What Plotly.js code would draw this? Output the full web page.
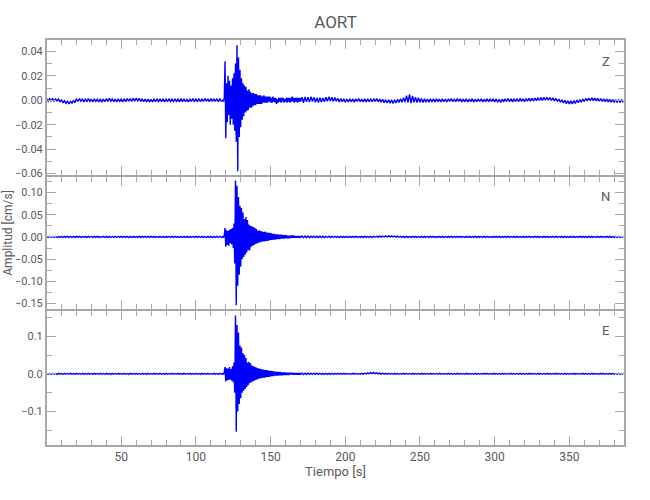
<!DOCTYPE html>
<html>
<head>
<meta charset="utf-8">
<script src="https://cdn.plot.ly/plotly-3.0.1.min.js"></script>
<style>html,body{margin:0;padding:0;background:#fff}#chart{width:650px;height:500px}</style>
</head>
<body>
<div id="chart"></div>
<script>
// ---- Sampling grid (seconds) ----
const preStart = 0, preStep = 1;      // pre-event samples  (0 .. 117 s)
const evtStart = 118, evtStep = 0.5;  // event samples      (118 .. 170 s)
const postStart = 171, postStep = 1;  // coda / post-event  (171 .. 386 s)
// values below are in units of 1e-3 cm/s
const unit = 0.001;

// ---- Channel names ----
const channels = ["Z", "N", "E"];

// ---- Z component ----
const zPre = [1.4,-0.8,1.2,-0.6,1.5,-0.9,1.1,-0.5,1.0,-1.2,
  0.2,-1.8,-0.4,-2.4,-0.8,-3.0,-0.6,-2.6,0.0,-2.0,
  1.2,-1.0,1.4,-0.8,1.1,-1.3,0.9,-1.1,1.3,-0.9,
  1.0,-1.4,1.2,-1.0,0.8,-1.3,1.1,-1.5,0.9,-1.2,
  1.3,-0.9,1.5,-0.7,1.2,-1.1,1.0,-1.4,1.1,-1.0,
  0.9,-1.3,1.2,-1.1,1.4,-0.8,1.3,-1.0,1.6,-0.7,
  1.7,-0.5,1.5,-0.9,1.2,-1.2,1.0,-1.4,0.9,-1.5,
  0.8,-1.3,1.1,-1.2,1.0,-1.0,1.2,-1.1,0.9,-1.3,
  1.1,-1.2,1.3,-1.0,0.9,-1.4,1.2,-0.9,1.0,-1.3,
  1.4,-1.1,1.2,-1.2,0.8,-1.4,1.1,-1.0,1.3,-1.1,
  1.0,-0.9,1.3,-1.2,1.1,-1.0,1.5,-0.8,1.2,-1.1,
  1.4,-0.9,1.2,-1.0,1.3,-1.2,1.1,-0.8];
const zEvt = [0,-1,2,32,-31,14,-18,20,-12,16,
  -20,12,-15,18,-20,22,-25,30,-34,45,
  -58,35,-30,25,-22,18,-16,14,-13,12,
  -10,11,-9,8,-8,9,-6,7,-6,6,
  -5,6,-4,5,-4,5,-3,4,-3,4,
  -3,4,-3,3,-2,4,-2,3,-2,3,
  -2,3,-1,3,-2,2,-2,3,-1,2,
  -2,2,-3,1,-2,2,-1,2,-2,2,
  -1,2,-2,1,-1,2,-2,2,-1,2,
  -2,2,-1,3,-1,2,-2,2,-1,2,
  -2,2,-1,2,-1];
const zPost = [2.5,-2.0,2.8,-1.2,2.6,-1.5,3.0,-1.0,2.4,-1.6,
  2.2,-1.8,2.0,-1.4,1.8,-1.2,2.5,-0.8,2.8,-0.6,
  2.4,-1.0,2.2,-0.8,1.6,-1.4,1.5,-1.2,1.2,-1.6,
  1.0,-1.4,1.3,-1.2,1.1,-1.5,1.2,-1.0,1.4,-1.2,
  1.0,-1.3,1.1,-1.4,1.2,-1.1,0.9,-1.2,1.3,-1.0,
  1.4,-1.2,1.0,-1.6,0.7,-1.9,0.5,-2.2,0.4,-2.4,
  0.3,-2.6,0.5,-2.2,0.8,-1.8,1.2,-1.6,2.0,-1.4,
  3.8,-1.8,4.8,-2.4,3.6,-1.6,2.6,-1.8,2.0,-1.6,
  1.5,-1.9,1.2,-1.6,1.0,-1.5,1.2,-1.3,1.1,-1.4,
  1.2,-1.1,1.0,-1.3,1.1,-1.2,0.9,-1.4,1.2,-1.0,
  1.3,-1.1,1.0,-1.2,1.4,-1.0,1.1,-1.3,0.9,-1.2,
  1.2,-1.4,1.0,-1.1,1.3,-1.5,0.8,-1.2,1.1,-1.0,
  1.2,-1.3,1.0,-1.1,1.3,-1.2,1.1,-1.0,1.2,-1.4,
  1.0,-1.6,0.8,-1.8,0.9,-1.3,1.2,-1.0,1.4,-1.1,
  1.1,-1.3,1.2,-1.0,1.3,-1.2,1.5,-0.9,1.2,-1.1,
  1.3,-0.8,1.5,-0.7,1.6,-0.5,1.8,-0.4,2.0,-0.2,
  2.2,-0.1,2.4,0.0,2.5,0.1,2.3,-0.2,2.0,-0.6,
  1.6,-1.0,1.0,-1.6,0.4,-2.2,0.0,-2.8,-0.4,-3.0,
  -0.5,-3.1,-0.3,-2.6,0.2,-2.0,0.6,-1.5,1.0,-1.0,
  1.5,-0.6,1.8,-0.4,2.0,-0.3,1.8,-0.5,1.6,-0.8,
  1.3,-1.0,1.2,-1.1,1.0,-1.3,0.8,-1.5,0.6,-1.7,
  0.5,-1.8,0.6,-1.6,0.4,-1.8];

// ---- N component ----
const nPre = [1.1,-1.0,1.3,-0.8,1.0,-1.2,0.9,-1.4,0.8,-1.1,
  1.0,-1.1,1.2,-0.9,1.1,-1.2,1.0,-1.3,1.1,-1.0,
  1.2,-0.9,1.1,-1.1,1.0,-1.2,1.1,-1.0,1.3,-0.9,
  1.0,-1.2,1.2,-1.0,1.1,-1.1,1.0,-1.3,1.1,-1.2,
  1.2,-1.0,1.1,-1.3,1.0,-1.0,1.2,-1.2,1.4,-1.1,
  1.1,-1.2,1.3,-1.1,1.2,-1.4,1.1,-1.2,1.3,-1.0,
  1.0,-1.1,1.2,-0.9,1.1,-1.2,1.0,-1.3,1.2,-1.1,
  1.3,-1.0,1.1,-1.2,1.0,-1.1,1.2,-1.3,1.1,-1.0,
  1.2,-1.1,1.0,-1.2,1.3,-1.0,1.1,-1.1,1.2,-1.2,
  1.0,-1.3,1.1,-1.0,1.2,-1.1,1.3,-1.2,1.0,-1.1,
  1.2,-1.0,1.1,-1.3,1.2,-1.1,1.0,-1.2,1.3,-1.1,
  1.2,-1.4,1.3,-1.2,1.1,-1.3,1.4,-1.2];
const nEvt = [1,-2,4,20,-22,15,-18,13,-20,16,
  -14,18,-17,20,-25,30,-60,127,-154,115,
  -110,90,-85,70,-67,65,-50,55,-45,40,
  -40,45,-35,38,-30,28,-30,25,-22,24,
  -20,22,-18,20,-16,18,-15,14,-13,15,
  -12,13,-11,12,-10,11,-10,12,-9,10,
  -9,9,-8,9,-7,8,-7,7,-6,7,
  -6,6,-5,6,-5,5,-5,5,-4,5,
  -4,4,-4,4,-3,4,-3,3,-3,3,
  -3,3,-2,3,-2,3,-2,2,-2,2,
  -2,2,-2,2,-1];
const nPost = [1.9,-1.7,2.0,-1.6,1.8,-1.7,1.7,-1.5,1.8,-1.4,
  1.6,-1.5,1.5,-1.3,1.6,-1.4,1.4,-1.2,1.5,-1.3,
  1.3,-1.2,1.4,-1.1,1.2,-1.3,1.3,-1.1,1.2,-1.2,
  1.1,-1.2,1.2,-1.0,1.1,-1.1,1.2,-1.0,1.0,-1.1,
  1.2,-1.0,1.1,-1.2,1.0,-1.1,1.2,-0.9,1.3,-0.8,
  1.5,-0.6,1.8,-0.4,2.0,-0.2,2.2,-0.1,2.4,0.0,
  2.3,-0.2,2.0,-0.5,1.7,-0.8,1.4,-1.0,1.2,-1.1,
  1.1,-1.2,1.0,-1.1,1.2,-1.0,1.1,-1.2,1.0,-1.1,
  1.2,-1.0,1.1,-1.1,1.0,-1.2,1.1,-1.0,1.2,-1.1,
  1.0,-1.2,1.1,-1.0,1.2,-1.1,1.0,-1.1,1.1,-1.2,
  1.2,-1.0,1.0,-1.1,1.1,-1.2,1.2,-1.0,1.0,-1.1,
  1.1,-1.2,1.2,-1.0,1.0,-1.1,1.1,-1.2,1.2,-1.0,
  1.0,-1.1,1.2,-1.2,1.1,-1.0,1.0,-1.1,1.2,-1.2,
  1.1,-1.0,1.2,-1.1,1.0,-1.2,1.1,-1.0,1.2,-1.1,
  1.0,-1.2,1.1,-1.1,1.2,-1.0,1.0,-1.2,1.1,-1.1,
  1.2,-1.0,1.1,-1.2,1.0,-1.1,1.2,-1.0,1.1,-1.2,
  1.0,-1.1,1.2,-1.0,1.1,-1.2,1.0,-1.1,1.2,-1.0,
  1.1,-1.2,1.0,-1.1,1.2,-1.0,1.1,-1.2,1.0,-1.1,
  1.2,-1.0,1.1,-1.2,1.0,-1.1,1.2,-1.0,1.1,-1.2,
  1.0,-1.1,1.2,-1.0,1.1,-1.2,1.0,-1.1,1.2,-1.0,
  1.1,-1.2,1.0,-1.1,1.2,-1.0,1.1,-1.2,1.0,-1.1,
  1.2,-1.0,1.1,-1.2,1.0,-1.1];

// ---- E component ----
const ePre = [1.0,-1.2,1.3,-1.0,1.2,-1.1,1.0,-1.3,1.2,-1.0,
  1.1,-1.2,1.3,-1.1,1.0,-1.2,1.2,-1.0,1.1,-1.3,
  1.2,-1.1,1.0,-1.2,1.3,-1.0,1.1,-1.2,1.2,-1.1,
  1.0,-1.3,1.2,-1.0,1.1,-1.2,1.3,-1.1,1.0,-1.2,
  1.2,-1.0,1.1,-1.3,1.2,-1.1,1.0,-1.2,1.3,-1.0,
  1.1,-1.2,1.2,-1.1,1.0,-1.3,1.2,-1.0,1.1,-1.2,
  1.3,-1.1,1.0,-1.2,1.2,-1.0,1.1,-1.3,1.2,-1.1,
  1.0,-1.2,1.3,-1.0,1.1,-1.2,1.2,-1.1,1.0,-1.3,
  1.2,-1.0,1.1,-1.2,1.3,-1.1,1.0,-1.2,1.2,-1.0,
  1.1,-1.3,1.2,-1.1,1.0,-1.2,1.3,-1.0,1.1,-1.2,
  1.2,-1.1,1.0,-1.3,1.2,-1.0,1.1,-1.2,1.3,-1.1,
  1.0,-1.2,1.2,-1.0,1.1,-1.3,1.2,-1.1];
const eEvt = [1,-2,5,18,-20,15,-17,14,-16,18,
  -15,13,-18,20,-22,30,-50,155,-154,130,
  -100,110,-80,75,-65,70,-50,55,-45,50,
  -40,42,-35,30,-30,32,-25,28,-22,22,
  -20,20,-18,19,-16,17,-15,15,-13,14,
  -12,13,-11,12,-10,11,-10,10,-9,10,
  -8,9,-8,8,-7,8,-6,7,-6,6,
  -5,6,-5,5,-5,5,-4,5,-4,4,
  -4,4,-3,4,-3,3,-3,3,-3,3,
  -2,3,-2,3,-2,2,-2,2,-2,2,
  -2,2,-2,2,-1];
const ePost = [2.0,-1.8,1.9,-1.7,1.8,-1.6,1.7,-1.6,1.6,-1.5,
  1.6,-1.4,1.5,-1.4,1.4,-1.3,1.5,-1.2,1.3,-1.3,
  1.2,-1.2,1.3,-1.1,1.2,-1.2,1.1,-1.1,1.2,-1.0,
  1.1,-1.2,1.0,-1.1,1.2,-1.0,1.1,-1.2,1.0,-1.1,
  1.2,-0.8,1.6,-0.4,2.4,0.2,3.2,0.6,3.6,0.4,
  2.8,-0.2,2.0,-0.6,1.6,-0.9,1.2,-1.1,1.1,-1.2,
  1.0,-1.1,1.2,-1.0,1.1,-1.2,1.0,-1.1,1.2,-1.0,
  1.1,-1.2,1.0,-1.1,1.2,-1.0,1.1,-1.2,1.0,-1.1,
  1.2,-1.0,1.1,-1.2,1.0,-1.1,1.2,-1.0,1.1,-1.2,
  1.0,-1.1,1.2,-1.0,1.1,-1.2,1.0,-1.1,1.2,-1.0,
  1.1,-1.2,1.0,-1.1,1.2,-1.0,1.1,-1.2,1.0,-1.1,
  1.2,-1.0,1.1,-1.2,1.0,-1.1,1.2,-1.0,1.1,-1.2,
  1.0,-1.1,1.2,-1.0,1.1,-1.2,1.0,-1.1,1.2,-1.0,
  1.1,-1.2,1.0,-1.1,1.2,-1.0,1.1,-1.2,1.0,-1.1,
  1.2,-1.0,1.1,-1.2,1.0,-1.1,1.2,-1.0,1.1,-1.2,
  1.0,-1.1,1.2,-1.0,1.1,-1.2,1.0,-1.1,1.2,-1.0,
  1.1,-1.2,1.0,-1.1,1.2,-1.0,1.1,-1.2,1.0,-1.1,
  1.2,-1.0,1.1,-1.2,1.0,-1.1,1.2,-1.0,1.1,-1.2,
  1.0,-1.1,1.2,-1.0,1.1,-1.2,1.0,-1.1,1.2,-1.0,
  1.1,-1.2,1.0,-1.1,1.2,-1.0,1.1,-1.2,1.0,-1.1,
  1.2,-1.0,1.1,-1.2,1.0,-1.1,1.2,-1.0,1.1,-1.2,
  1.0,-1.1,1.2,-1.0,1.1,-1.2];

// ---- Axis tick settings ----
const xTickStep = 50, xMinorStep = 10;
const yTickSteps = [0.02, 0.05, 0.1];
const yMinorSteps = [0.01, 0.025, 0.05];
const yFormats = [".2f", ".2f", ".1f"];
const yRanges = [[-0.0614, 0.0493], [-0.163, 0.134], [-0.189, 0.166]];
const xRange = [0.3, 386.6];

// ---- Build traces ----
function times(start, step, n) { const t = []; for (let i = 0; i < n; i++) t.push(start + i * step); return t; }
function series(pre, evt, post) {
  const x = times(preStart, preStep, pre.length)
    .concat(times(evtStart, evtStep, evt.length))
    .concat(times(postStart, postStep, post.length));
  const y = pre.concat(evt, post).map(v => v * unit);
  return {x: x, y: y};
}
const comps = [series(zPre, zEvt, zPost), series(nPre, nEvt, nPost), series(ePre, eEvt, ePost)];

const lineBlue = "#0000ff";
const gray = "#a8a8a8";
const textGray = "#5a5a5a";
const fontFam = "Roboto, 'Liberation Sans', sans-serif";

const data = comps.map((c, i) => ({
  type: "scatter", mode: "lines", x: c.x, y: c.y,
  xaxis: i === 0 ? "x" : "x" + (i + 1),
  yaxis: i === 0 ? "y" : "y" + (i + 1),
  line: {color: lineBlue, width: 1.4},
  hoverinfo: "skip", showlegend: false
}));

// domains leave a 2px gap so the outward-drawn border lines overlap into one
const domains = [[0.6658, 1], [0.335, 0.6608], [0, 0.330]];
const labelY = [0.84, 0.855, 0.857];
const annotations = channels.map((ch, i) => ({
  text: ch, showarrow: false,
  xref: (i === 0 ? "x" : "x" + (i + 1)) + " domain", x: 0.968, xanchor: "center",
  yref: (i === 0 ? "y" : "y" + (i + 1)) + " domain", y: labelY[i], yanchor: "middle",
  font: {family: fontFam, size: 13, color: textGray}
}));
annotations.push({
  text: "Amplitud [cm/s]", showarrow: false, textangle: -90,
  xref: "paper", x: -0.067, xanchor: "center",
  yref: "paper", y: 0.525, yanchor: "middle",
  font: {family: fontFam, size: 12, color: textGray}
});

const layout = {
  width: 650, height: 500,
  margin: {l: 47, r: 26, t: 40, b: 55},
  paper_bgcolor: "#ffffff", plot_bgcolor: "#ffffff",
  font: {family: fontFam, size: 11, color: textGray},
  title: {text: "AORT", x: 0.5, xref: "paper", y: 0.956, yref: "container", yanchor: "middle",
          font: {family: fontFam, size: 17, color: textGray}},
  annotations: annotations
};

for (let i = 0; i < 3; i++) {
  const xk = i === 0 ? "xaxis" : "xaxis" + (i + 1);
  const yk = i === 0 ? "yaxis" : "yaxis" + (i + 1);
  const yid = i === 0 ? "y" : "y" + (i + 1);
  const xid = i === 0 ? "x" : "x" + (i + 1);
  layout[xk] = {
    domain: [0, 1], anchor: yid, range: xRange, tick0: 0, dtick: xTickStep,
    ticks: "inside", ticklen: 9, tickwidth: 1, tickcolor: gray,
    minor: {ticks: "inside", ticklen: 5, dtick: xMinorStep, tick0: 0, tickcolor: gray, tickwidth: 1},
    showline: true, linecolor: gray, linewidth: 2, mirror: "ticks",
    showgrid: false, zeroline: false, showticklabels: i === 2,
    tickfont: {family: fontFam, size: 12, color: textGray}
  };
  if (i === 2) layout[xk].title = {text: "Tiempo [s]", standoff: 0, font: {family: fontFam, size: 13, color: textGray}};
  layout[yk] = {
    domain: domains[i], anchor: xid, range: yRanges[i], tick0: 0, dtick: yTickSteps[i],
    tickformat: yFormats[i],
    ticks: "inside", ticklen: 9, tickwidth: 1, tickcolor: gray,
    minor: {ticks: "inside", ticklen: 5, dtick: yMinorSteps[i], tick0: 0, tickcolor: gray, tickwidth: 1},
    showline: true, linecolor: gray, linewidth: 2, mirror: "ticks",
    showgrid: false, zeroline: false, automargin: false,
    tickfont: {family: fontFam, size: 11, color: textGray}
  };
}

Plotly.newPlot("chart", data, layout, {displayModeBar: false, staticPlot: true});
</script>
</body>
</html>
